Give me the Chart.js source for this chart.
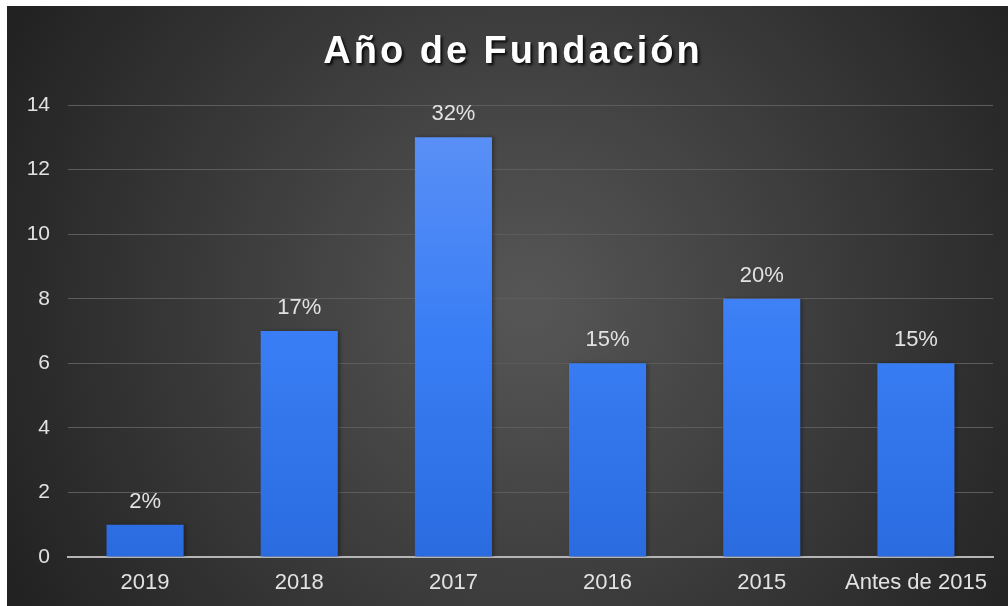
<!DOCTYPE html>
<html>
<head>
<meta charset="utf-8">
<script src="https://cdn.jsdelivr.net/npm/chart.js@4.4.1/dist/chart.umd.min.js"></script>
<style>
  html, body { margin: 0; padding: 0; background: #fff; }
  #wrap { position: absolute; left: 7px; top: 6px; width: 1001px; height: 600px; }
</style>
</head>
<body>
<div id="wrap"><canvas id="myChart"></canvas></div>
<script>
var titulo = 'Año de Fundación'
var anos = ['2019', '2018', '2017', '2016', '2015', 'Antes de 2015']
var empresas = [1, 7, 13, 6, 8, 6]
var porcentajes = ['2%', '17%', '32%', '15%', '20%', '15%']
var ticksY = [0, 2, 4, 6, 8, 10, 12, 14]

// fondo oscuro con degradado radial
const fondo = {
  id: 'fondo',
  beforeDraw(chart) {
    const ctx = chart.ctx
    const w = chart.width, h = chart.height
    const g = ctx.createRadialGradient(w * 0.52, h * 0.5, 20, w * 0.52, h * 0.5, w * 0.62)
    g.addColorStop(0, '#555555')
    g.addColorStop(1, '#1f1f1f')
    ctx.save()
    ctx.fillStyle = g
    ctx.fillRect(0, 0, w, h)
    // titulo
    ctx.font = 'bold 38px "Liberation Sans", Arial, sans-serif'
    ctx.letterSpacing = '3px'
    ctx.textAlign = 'center'
    ctx.textBaseline = 'alphabetic'
    ctx.shadowColor = 'rgba(0,0,0,0.9)'
    ctx.shadowOffsetX = 2
    ctx.shadowOffsetY = 2
    ctx.shadowBlur = 3
    ctx.fillStyle = '#ffffff'
    ctx.fillText(titulo, 506, 57)
    ctx.restore()
  },
  beforeDatasetsDraw(chart) {
    const ctx = chart.ctx
    ctx.save()
    ctx.shadowColor = 'rgba(0,0,0,0.35)'
    ctx.shadowOffsetX = 2
    ctx.shadowBlur = 4
  },
  afterDatasetsDraw(chart) {
    const ctx = chart.ctx
    ctx.restore()
    const meta = chart.getDatasetMeta(0)
    ctx.save()
    ctx.font = '22px "Liberation Sans", Arial, sans-serif'
    ctx.fillStyle = '#e2e2e2'
    ctx.textAlign = 'center'
    ctx.textBaseline = 'alphabetic'
    meta.data.forEach(function (bar, i) {
      ctx.fillText(porcentajes[i], bar.x, bar.y - 17)
    })
    ctx.restore()
  }
}

const dados = {
  labels: anos,
  datasets: [{
    label: 'Empresas',
    data: empresas,
    backgroundColor: function (c) {
      const area = c.chart.chartArea
      if (!area) return '#3b7cf0'
      const g = c.chart.ctx.createLinearGradient(0, area.top, 0, area.bottom)
      g.addColorStop(0, '#5e92f6')
      g.addColorStop(0.5, '#3a7ef5')
      g.addColorStop(1, '#2a6be0')
      return g
    },
    borderWidth: 0,
    barPercentage: 0.5,
    categoryPercentage: 1
  }]
}

const config = {
  type: 'bar',
  data: dados,
  options: {
    animation: false,
    responsive: true,
    maintainAspectRatio: false,
    layout: { padding: { top: 99, right: 15, left: 0, bottom: 0 } },
    plugins: {
      legend: { display: false },
      tooltip: { enabled: false }
    },
    scales: {
      x: {
        grid: { display: false },
        border: { color: '#b5b5b5', width: 2 },
        ticks: {
          color: '#e2e2e2',
          font: { family: '"Liberation Sans", Arial, sans-serif', size: 22 },
          padding: 5,
          maxRotation: 0
        },
        afterFit: function (s) { s.height = 49 }
      },
      y: {
        min: 0,
        max: 14,
        afterBuildTicks: function (s) { s.ticks = ticksY.map(v => ({ value: v })) },
        grid: { color: '#5c5c5c', lineWidth: 1, drawTicks: false },
        border: { display: false },
        ticks: {
          color: '#e2e2e2',
          font: { family: '"Liberation Sans", Arial, sans-serif', size: 21 },
          padding: 18
        },
        afterFit: function (s) { s.width = 61 }
      }
    }
  },
  plugins: [fondo]
}

window.myChart = new Chart(document.getElementById('myChart'), config)
</script>
</body>
</html>
